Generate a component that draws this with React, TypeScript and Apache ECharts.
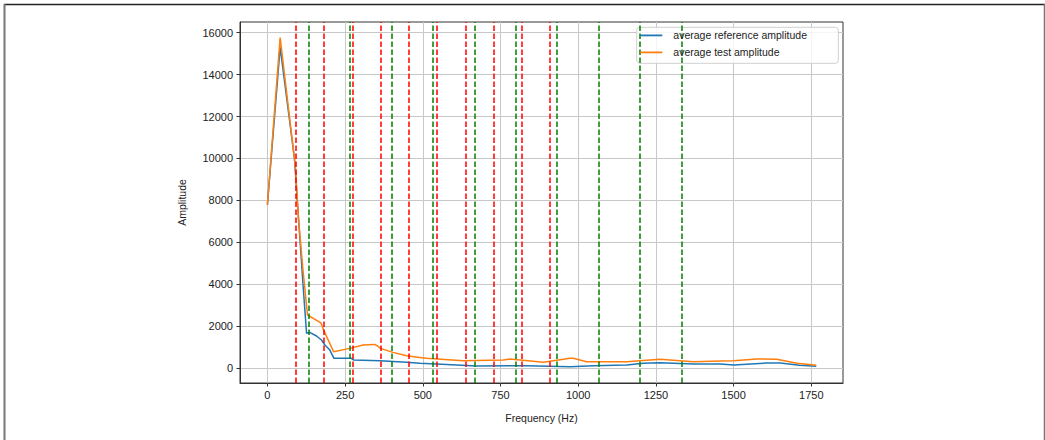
import React, { useEffect, useRef } from "react";
import * as echarts from "echarts";

const refFreq = [0, 41, 87, 115, 126, 136, 158, 174, 185, 201, 214, 270, 278, 362, 448, 490, 544, 673, 834, 974, 1049, 1156, 1210, 1263, 1371, 1457, 1500, 1607, 1650, 1712, 1766];
const refAmp = [7800, 15300, 10000, 3900, 1670, 1710, 1540, 1350, 1110, 870, 475, 475, 395, 362, 285, 238, 205, 110, 124, 80, 124, 157, 238, 267, 205, 205, 157, 252, 252, 143, 95];

const testFreq = [0, 41, 90, 100, 115, 129, 172, 181, 213, 265, 308, 345, 356, 364, 404, 448, 490, 512, 630, 759, 780, 888, 920, 974, 984, 1027, 1156, 1263, 1371, 1457, 1500, 1575, 1639, 1704, 1766];
const testAmp = [7800, 15760, 9600, 7100, 4600, 2540, 2170, 1820, 790, 950, 1110, 1140, 1050, 950, 760, 600, 520, 475, 362, 395, 440, 285, 362, 475, 475, 315, 315, 430, 315, 348, 362, 443, 430, 238, 143];

const redLines = [91, 182, 273, 364, 455, 546, 637, 728, 819, 910];
const greenLines = [133, 266, 400, 533, 666, 799, 932, 1066, 1199, 1332];

const xTicks = [0, 250, 500, 750, 1000, 1250, 1500, 1750];
const yTicks = [0, 2000, 4000, 6000, 8000, 10000, 12000, 14000, 16000];

const seriesNames = ["average reference amplitude", "average test amplitude"];
const xName = "Frequency (Hz)";
const yName = "Amplitude";

const FONT = "Liberation Sans, Arial, sans-serif";

export default function App() {
  const ref = useRef<HTMLDivElement>(null);
  useEffect(() => {
    document.body.style.margin = "0";
    const chart = echarts.init(ref.current!, null, { renderer: "svg" });
    const refData = refFreq.map((f, i) => [f, refAmp[i]]);
    const testData = testFreq.map((f, i) => [f, testAmp[i]]);
    const vlines = (vals: number[], color: string) => ({
      silent: true,
      symbol: ["none", "none"],
      label: { show: false },
      lineStyle: { color, type: [5.5, 2.5], width: 1.5 },
      emphasis: { disabled: true },
      data: vals.map((v) => ({ xAxis: v })),
    });
    const plain = (v: number) => String(v);
    chart.setOption({
      animation: false,
      backgroundColor: "#ffffff",
      grid: {
        left: 240,
        top: 22,
        width: 603,
        height: 361,
        show: true,
        borderColor: "#333",
        borderWidth: 1,
      },
      xAxis: {
        type: "value",
        min: -88.2,
        max: 1852,
        name: xName,
        nameLocation: "middle",
        nameGap: 29,
        nameTextStyle: { fontFamily: FONT, fontSize: 10.5, color: "#222" },
        axisLine: { show: true, onZero: false, lineStyle: { color: "#333", width: 1 } },
        axisTick: { show: true, length: 3.5, customValues: xTicks, lineStyle: { color: "#333" } },
        axisLabel: { customValues: xTicks, formatter: plain, margin: 6, fontFamily: FONT, fontSize: 11, color: "#222" },
        splitLine: { show: true, lineStyle: { color: "#c8c8c8", width: 1 } },
      },
      yAxis: {
        type: "value",
        min: -700,
        max: 16505,
        name: yName,
        nameLocation: "middle",
        nameGap: 53,
        nameTextStyle: { fontFamily: FONT, fontSize: 10.5, color: "#222" },
        axisLine: { show: true, onZero: false, lineStyle: { color: "#333", width: 1 } },
        axisTick: { show: true, length: 3.5, customValues: yTicks, lineStyle: { color: "#333" } },
        axisLabel: { customValues: yTicks, formatter: plain, margin: 7, fontFamily: FONT, fontSize: 11, color: "#222" },
        splitLine: { show: true, lineStyle: { color: "#c8c8c8", width: 1 } },
      },
      legend: {
        data: seriesNames,
        orient: "vertical",
        left: 637,
        top: 27,
        padding: [2.4, 8, 4.6, 3.3],
        icon: "rect",
        itemWidth: 22,
        itemHeight: 1.8,
        itemGap: 5,
        z: 10,
        textStyle: { fontFamily: FONT, fontSize: 10.5, color: "#222", lineHeight: 12, padding: [0, 0, 0, 6] },
      },
      graphic: [
        {
          type: "rect",
          shape: { x: 636.7, y: 27.3, width: 201.6, height: 36, r: 3 },
          style: { fill: "rgba(255,255,255,0.8)", stroke: "#d0d0d0", lineWidth: 1 },
          z: 5,
          silent: true,
        },
        {
          type: "line",
          shape: { x1: 4, y1: 4.5, x2: 1045, y2: 4.5 },
          style: { stroke: "#222", lineWidth: 1.5 },
          silent: true,
        },
        {
          type: "line",
          shape: { x1: 4.5, y1: 4, x2: 4.5, y2: 440 },
          style: { stroke: "#777", lineWidth: 2 },
          silent: true,
        },
        {
          type: "line",
          shape: { x1: 1044.5, y1: 4, x2: 1044.5, y2: 440 },
          style: { stroke: "#777", lineWidth: 1.5 },
          silent: true,
        },
      ],
      series: [
        {
          name: seriesNames[0],
          type: "line",
          data: refData,
          symbol: "none",
          color: "#1f77b4",
          lineStyle: { width: 1.5, color: "#1f77b4" },
          z: 2,
        },
        {
          name: seriesNames[1],
          type: "line",
          data: testData,
          symbol: "none",
          color: "#ff7f0e",
          lineStyle: { width: 1.5, color: "#ff7f0e" },
          z: 2,
        },
        {
          name: "red",
          type: "line",
          data: [],
          symbol: "none",
          z: 3,
          markLine: vlines(redLines, "#ff0000"),
        },
        {
          name: "green",
          type: "line",
          data: [],
          symbol: "none",
          z: 3,
          markLine: vlines(greenLines, "#008000"),
        },
      ],
    });
    return () => chart.dispose();
  }, []);
  return <div ref={ref} style={{ width: 1045, height: 440 }} />;
}
